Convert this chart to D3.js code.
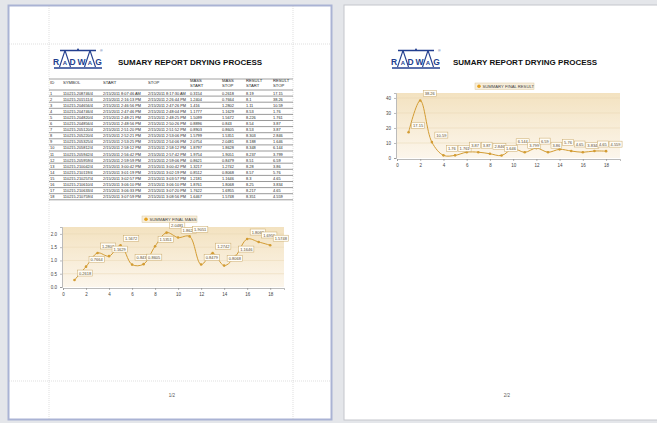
<!DOCTYPE html>
<html>
<head>
<meta charset="utf-8">
<script src="https://cdn.jsdelivr.net/npm/d3@7"></script>
<style>
  body { margin: 0; background: #e4e6ea; }
  svg { display: block; font-family: "Liberation Sans", Arial, sans-serif; }
</style>
</head>
<body>
<svg id="view" width="657" height="423"></svg>
<script>
// report data
const ids = [1, 2, 3, 4, 5, 6, 7, 8, 9, 10, 11, 12, 13, 14, 15, 16, 17, 18];
const symbols = ["110215.208746/4", "110215.201511/4", "110215.204656/4", "110215.204746/4", "110215.204820/4",
  "110215.204856/4", "110215.205120/4", "110215.205220/4", "110215.205325/4", "110215.205812/4",
  "110215.205942/4", "110215.205959/4", "110215.210042/4", "110215.210119/4", "110215.210257/4",
  "110215.210610/4", "110215.210633/4", "110215.210759/4"];
const startTimes = ["2/15/2011 8:07:46 AM", "2/15/2011 2:16:13 PM", "2/15/2011 2:46:56 PM", "2/15/2011 2:47:46 PM",
  "2/15/2011 2:48:21 PM", "2/15/2011 2:48:56 PM", "2/15/2011 2:51:20 PM", "2/15/2011 2:52:21 PM",
  "2/15/2011 2:53:25 PM", "2/15/2011 2:58:12 PM", "2/15/2011 2:56:42 PM", "2/15/2011 2:59:59 PM",
  "2/15/2011 3:00:42 PM", "2/15/2011 3:01:19 PM", "2/15/2011 3:02:57 PM", "2/15/2011 3:06:10 PM",
  "2/15/2011 3:06:33 PM", "2/15/2011 3:07:59 PM"];
const stopTimes = ["2/15/2011 8:17:30 AM", "2/15/2011 2:26:44 PM", "2/15/2011 2:47:26 PM", "2/15/2011 2:48:04 PM",
  "2/15/2011 2:48:25 PM", "2/15/2011 2:50:26 PM", "2/15/2011 2:51:52 PM", "2/15/2011 2:53:06 PM",
  "2/15/2011 2:54:06 PM", "2/15/2011 2:58:12 PM", "2/15/2011 2:57:42 PM", "2/15/2011 2:59:06 PM",
  "2/15/2011 3:00:42 PM", "2/15/2011 3:02:19 PM", "2/15/2011 3:03:57 PM", "2/15/2011 3:06:10 PM",
  "2/15/2011 3:07:20 PM", "2/15/2011 3:08:56 PM"];
const massStart = ["0.3154", "1.2404", "1.416", "1.1777", "1.5099", "0.8896", "0.8903", "1.5799", "2.0754",
  "1.8797", "1.9754", "0.8621", "1.3217", "0.8512", "1.2181", "1.8761", "1.7622", "1.6467"];
const massStop = [0.2618, 0.7664, 1.2802, 1.1629, 1.5672, 0.843, 0.8605, 1.5351, 2.0481,
  1.8628, 1.9051, 0.8479, 1.2742, 0.8068, 1.1646, 1.8068, 1.6955, 1.5748];
const resultStart = ["8.19", "8.1", "1.11", "8.53", "8.226", "8.54", "8.53", "8.303", "8.188",
  "8.348", "8.237", "8.51", "8.28", "8.57", "8.3", "8.25", "8.217", "8.351"];
const resultStop = [17.15, 38.26, 10.59, 1.76, 1.761, 3.87, 3.87, 2.846, 1.646,
  6.144, 3.799, 6.59, 3.86, 5.76, 4.65, 3.834, 4.65, 4.559];

const headers = [["ID"], ["SYMBOL"], ["START"], ["STOP"], ["MASS", "START"], ["MASS", "STOP"],
  ["RESULT", "START"], ["RESULT", "STOP"]];
const xTicks = [0, 2, 4, 6, 8, 10, 12, 14, 16, 18];
const massTicks = [0, 0.5, 1, 1.5, 2];
const resultTicks = [0, 10, 20, 30, 40];

const title = "SUMARY REPORT DRYING PROCESS";
const gold = "#d39c33";

const svg = d3.select("#view");

const defs = svg.append("defs");
const grad = defs.append("linearGradient")
    .attr("id", "plotbg")
    .attr("x1", 0).attr("y1", 0).attr("x2", 0).attr("y2", 1);
grad.append("stop").attr("offset", "0%").attr("stop-color", "#f3e2c0");
grad.append("stop").attr("offset", "100%").attr("stop-color", "#fcf6ec");

// pages
svg.append("rect")
    .attr("x", 344).attr("y", 5).attr("width", 330).attr("height", 415)
    .attr("fill", "#fff").attr("stroke", "#c4c6cc").attr("stroke-width", 1);
svg.append("rect")
    .attr("x", 8.5).attr("y", 5.5).attr("width", 323).attr("height", 414)
    .attr("fill", "#fff").attr("stroke", "#aab3d4").attr("stroke-width", 2);

// margin guides on page 1
const guides = svg.append("g")
    .attr("stroke", "#c9c9c9").attr("stroke-width", 0.6).attr("stroke-dasharray", "1,1");
[49, 293].forEach(x => guides.append("line").attr("x1", x).attr("x2", x).attr("y1", 6).attr("y2", 419));
[44, 381].forEach(y => guides.append("line").attr("x1", 9).attr("x2", 331).attr("y1", y).attr("y2", y));

function drawHeader(x, y, titleX) {
  const logo = svg.append("g").attr("transform", `translate(${x},${y})`);
  const blue = "#233f8f";
  logo.append("line").attr("x1", 7).attr("x2", 43).attr("y1", 2.5).attr("y2", 2.5)
      .attr("stroke", blue).attr("stroke-width", 1.3);
  logo.append("circle").attr("cx", 25).attr("cy", 1.5).attr("r", 1).attr("fill", blue);
  logo.append("line").attr("x1", 1).attr("x2", 49).attr("y1", 20).attr("y2", 20)
      .attr("stroke", blue).attr("stroke-width", 1.3);
  [12, 37].forEach(cx => logo.append("path")
      .attr("d", `M${cx},2.5 L${cx - 5.5},19 M${cx},2.5 L${cx + 5.5},19`)
      .attr("stroke", blue).attr("stroke-width", 1.1).attr("fill", "none"));
  const letters = [["R", 3], ["D", 19.5], ["W", 28.5], ["G", 45.5]];
  letters.forEach(([t, lx]) => logo.append("text")
      .attr("x", lx).attr("y", 17).attr("text-anchor", "middle")
      .attr("font-size", 8.5).attr("font-weight", "bold").attr("fill", blue).text(t));
  [12, 37].forEach(lx => logo.append("text")
      .attr("x", lx).attr("y", 17).attr("text-anchor", "middle")
      .attr("font-size", 6).attr("font-weight", "bold").attr("fill", blue).text("A"));
  logo.append("text").attr("x", 47).attr("y", 4).attr("font-size", 3.5).attr("fill", blue).text("®");

  svg.append("text")
      .attr("x", titleX).attr("y", 65)
      .attr("font-size", 8).attr("font-weight", "bold").attr("fill", "#111")
      .text(title);
}

drawHeader(53, 48, 118);
drawHeader(391, 48, 453);

svg.append("line").attr("x1", 49).attr("x2", 293).attr("y1", 79).attr("y2", 79)
    .attr("stroke", "#8a8a8a").attr("stroke-width", 0.8);

// table
const colX = [50, 63, 103, 148, 190, 222, 246, 273];
const rowTop = 90, rowH = 6.1;
const table = svg.append("g").attr("font-size", 3.9).attr("fill", "#262626");

headers.forEach((h, i) => {
  h.forEach((line, j) => table.append("text")
      .attr("x", colX[i]).attr("y", 84 + j * 4.6 - (h.length > 1 ? 1.6 : 0))
      .attr("font-size", 4.2)
      .text(line));
});

const rows = ids.map((id, i) => [id, symbols[i], startTimes[i], stopTimes[i], massStart[i],
  massStop[i], resultStart[i], resultStop[i]]);

table.selectAll("line.row")
    .data(d3.range(ids.length + 1))
    .join("line")
    .attr("x1", 49).attr("x2", 293)
    .attr("y1", i => rowTop + i * rowH).attr("y2", i => rowTop + i * rowH)
    .attr("stroke", "#555").attr("stroke-width", 0.6);

const rowG = table.selectAll("g.row")
    .data(rows)
    .join("g")
    .attr("transform", (d, i) => `translate(0,${rowTop + i * rowH + 4.5})`);
rowG.selectAll("text")
    .data(d => d)
    .join("text")
    .attr("x", (d, i) => colX[i])
    .text(d => d);

function drawChart(values, ticks, opts) {
  const g = svg.append("g");
  const x = d3.scaleLinear().domain([0, 19.2]).range([opts.left, opts.right]);
  const y = d3.scaleLinear().domain([0, opts.yMax]).range([opts.bottom, opts.top]);

  g.append("rect")
      .attr("x", opts.left).attr("y", opts.top)
      .attr("width", opts.right - opts.left).attr("height", opts.bottom - opts.top)
      .attr("fill", "url(#plotbg)");

  g.selectAll("line.grid")
      .data(ticks.slice(1))
      .join("line")
      .attr("x1", opts.left).attr("x2", opts.right)
      .attr("y1", d => y(d)).attr("y2", d => y(d))
      .attr("stroke", "#e8d6b2").attr("stroke-width", 0.5);

  const yAxis = g.append("g")
      .attr("transform", `translate(${opts.left - 1},0)`)
      .call(d3.axisLeft(y).tickValues(ticks).tickSize(2).tickPadding(3));
  const xAxis = g.append("g")
      .attr("transform", `translate(0,${opts.bottom + 1})`)
      .call(d3.axisBottom(x).tickValues(xTicks).tickSize(2).tickPadding(3));
  [yAxis, xAxis].forEach(a => {
    a.selectAll("text").attr("font-size", 4.5).attr("fill", "#444");
    a.selectAll("line, path").attr("stroke", "#777").attr("stroke-width", 0.5);
  });

  const line = d3.line()
      .x((d, i) => x(ids[i]))
      .y(d => y(d))
      .curve(d3.curveCatmullRom.alpha(0.5));
  g.append("path")
      .attr("d", line(values))
      .attr("fill", "none").attr("stroke", gold).attr("stroke-width", 1);

  g.selectAll("circle.pt")
      .data(values)
      .join("circle")
      .attr("cx", (d, i) => x(ids[i])).attr("cy", d => y(d))
      .attr("r", 1.3).attr("fill", gold);

  const labels = g.selectAll("g.lbl")
      .data(values)
      .join("g")
      .attr("transform", (d, i) => `translate(${x(ids[i]) + 3},${y(d) - 4})`);
  labels.each(function(d) {
    const lg = d3.select(this);
    const t = lg.append("text").attr("x", 1.5).attr("y", -1.3)
        .attr("font-size", 4).attr("fill", "#5a4a30").text(d);
    const w = t.node().getComputedTextLength() + 3;
    lg.insert("rect", "text")
        .attr("x", 0).attr("y", -6).attr("width", w).attr("height", 6)
        .attr("fill", "#fffdf7").attr("stroke", "#c9a868").attr("stroke-width", 0.5);
  });

  const leg = g.append("g").attr("transform", `translate(${opts.legendX},${opts.legendY})`);
  leg.append("rect").attr("x", 0).attr("y", 0).attr("width", opts.legendW).attr("height", 6.5)
      .attr("fill", "#f7eedb").attr("stroke", "#dcc89e").attr("stroke-width", 0.5);
  leg.append("circle").attr("cx", 4).attr("cy", 3.25).attr("r", 1.8).attr("fill", "#e6a21e");
  leg.append("text").attr("x", 7.5).attr("y", 4.8).attr("font-size", 4.2).attr("fill", "#444")
      .text(opts.legend);
}

drawChart(massStop, massTicks, {
  left: 63, right: 284, top: 227, bottom: 287, yMax: 2.26,
  legend: "SUMMARY FINAL MASS", legendX: 142, legendY: 216, legendW: 55
});

drawChart(resultStop, resultTicks, {
  left: 397, right: 620, top: 93, bottom: 158, yMax: 43.3,
  legend: "SUMMARY FINAL RESULT", legendX: 475, legendY: 83, legendW: 59
});

// footers
svg.append("text").attr("x", 172).attr("y", 397).attr("text-anchor", "middle")
    .attr("font-size", 4.5).attr("fill", "#555").text("1/2");
svg.append("text").attr("x", 507).attr("y", 397).attr("text-anchor", "middle")
    .attr("font-size", 4.5).attr("fill", "#555").text("2/2");
</script>
</body>
</html>
